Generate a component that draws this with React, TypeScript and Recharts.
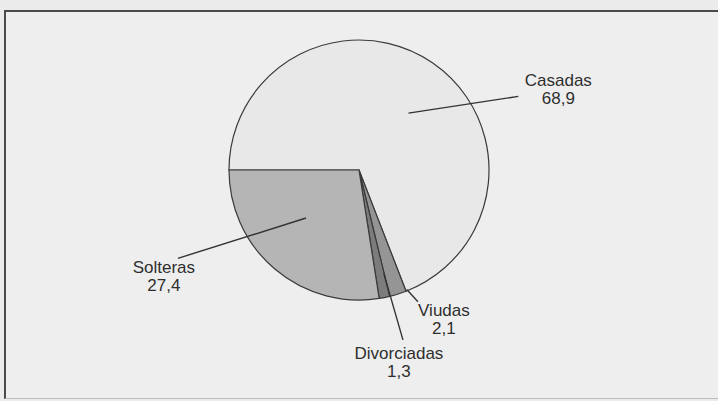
import { Cell, Pie, PieChart } from "recharts";

const names = ["Casadas", "Viudas", "Divorciadas", "Solteras"];
const values = [68.9, 2.1, 1.3, 27.4];
const valueLabels = ["68,9", "2,1", "1,3", "27,4"];

const FILLS = ["#e8e8e8", "#959595", "#7c7c7c", "#b5b5b5"];

// leader line per slice: polar start/end (deg, fraction of radius) and text offset
const LEADERS = [
  { a1: 49, r1: 0.58, a2: 24.8, r2: 1.35, dx: 40, dy: -10 },
  { a1: -68.2, r1: 0.99, a2: -65.9, r2: 1.11, dx: 26, dy: 14 },
  { a1: -76.5, r1: 0.82, a2: -75.5, r2: 1.35, dx: -4, dy: 19 },
  { a1: -137.8, r1: 0.55, a2: -154, r2: 1.55, dx: -14, dy: 15 },
];

const data = names.map((name, i) => ({ name, value: values[i] }));

const RAD = Math.PI / 180;

function renderLabel(props: any) {
  const { cx, cy, outerRadius, index } = props;
  const l = LEADERS[index];
  const x1 = cx + outerRadius * l.r1 * Math.cos(l.a1 * RAD);
  const y1 = cy - outerRadius * l.r1 * Math.sin(l.a1 * RAD);
  const x2 = cx + outerRadius * l.r2 * Math.cos(l.a2 * RAD);
  const y2 = cy - outerRadius * l.r2 * Math.sin(l.a2 * RAD);
  const tx = x2 + l.dx;
  const ty = y2 + l.dy;
  return (
    <g key={`lbl-${index}`}>
      <line x1={x1} y1={y1} x2={x2} y2={y2} stroke="#333" strokeWidth={1.4} />
      <text
        x={tx}
        y={ty}
        textAnchor="middle"
        fill="#2e2e2e"
        fontSize={17}
        fontFamily="'Liberation Sans', Arial, sans-serif"
      >
        <tspan x={tx} dy={0}>
          {names[index]}
        </tspan>
        <tspan x={tx} dy={18}>
          {valueLabels[index]}
        </tspan>
      </text>
    </g>
  );
}

export default function App() {
  return (
    <div
      style={{
        position: "absolute",
        left: 0,
        top: 0,
        width: 718,
        height: 401,
        background: "#ebebeb",
        overflow: "hidden",
      }}
    >
      <div
        style={{
          position: "absolute",
          left: 4,
          top: 10,
          width: 730,
          height: 386,
          borderTop: "2px solid #4a4a4a",
          borderLeft: "2px solid #4a4a4a",
          borderBottom: "1px solid #bdbdbd",
          background: "#eeeeee",
        }}
      />
      <div style={{ position: "absolute", left: 0, top: 0 }}>
        <PieChart
          width={718}
          height={401}
          margin={{ top: 0, right: 0, bottom: 0, left: 0 }}
        >
          <Pie
            data={data}
            dataKey="value"
            nameKey="name"
            cx={359}
            cy={170}
            outerRadius={130}
            startAngle={180}
            endAngle={-180}
            stroke="#3a3a3a"
            strokeWidth={1.2}
            label={renderLabel}
            labelLine={false}
            isAnimationActive={false}
          >
            {data.map((d, i) => (
              <Cell key={d.name} fill={FILLS[i]} />
            ))}
          </Pie>
        </PieChart>
      </div>
    </div>
  );
}
